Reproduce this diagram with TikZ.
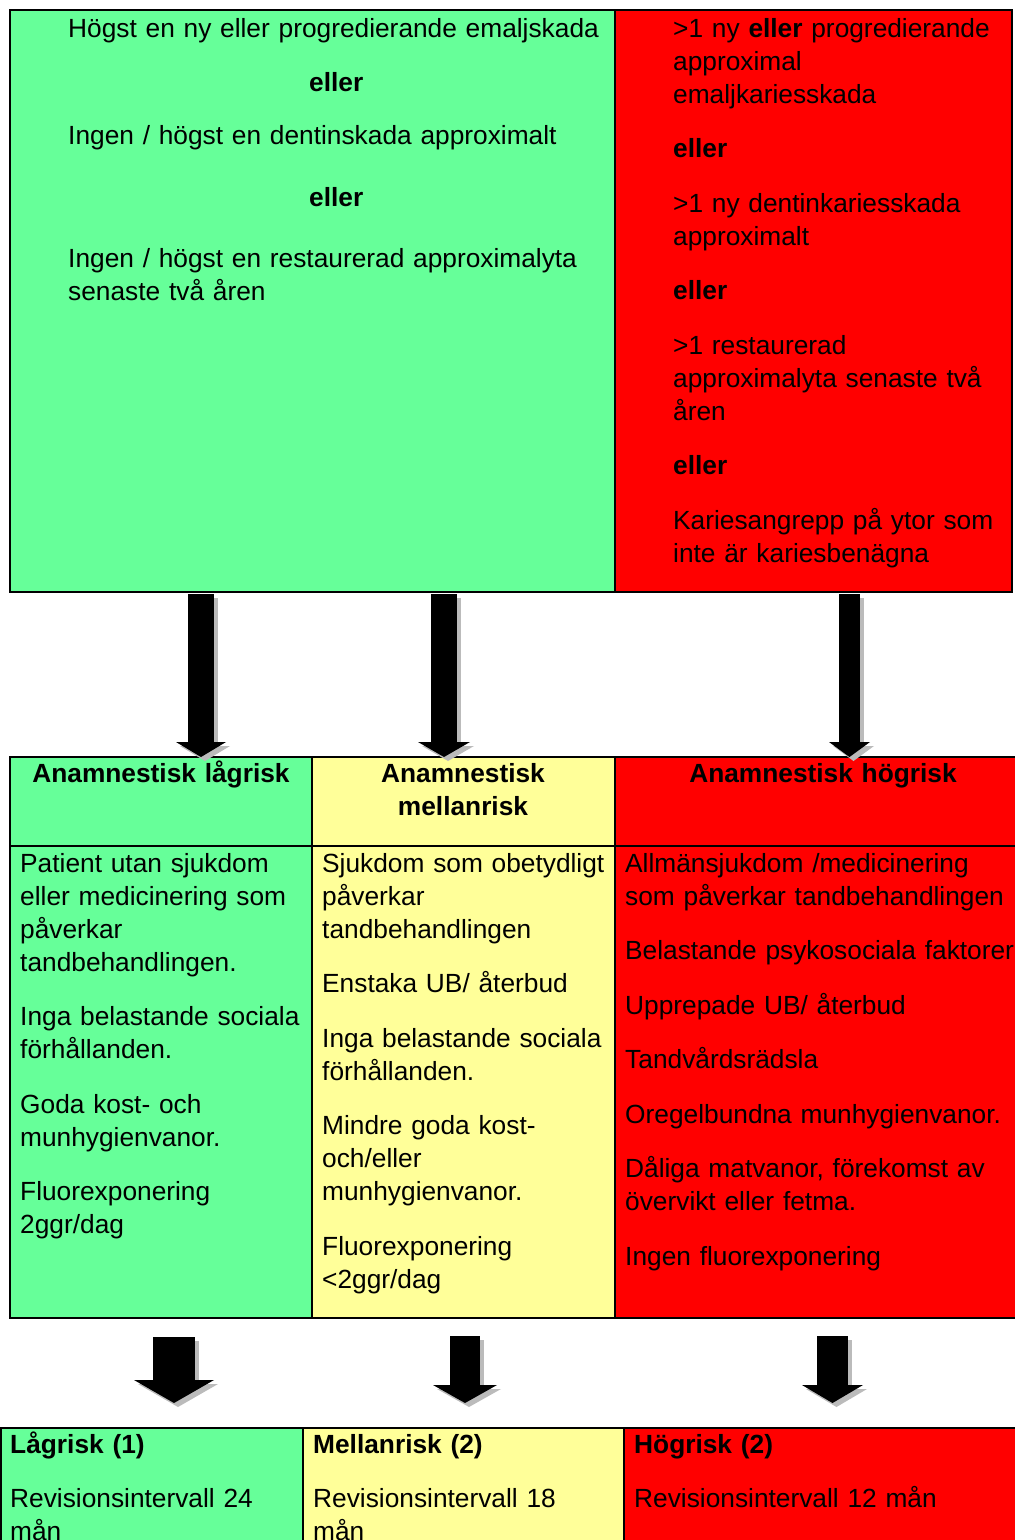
\documentclass[tikz,border=0pt]{standalone}
\usepackage{fontspec}
\setmainfont{Liberation Sans}
\usepackage{tikz}
\usetikzlibrary{arrows.meta}
\definecolor{lgreen}{HTML}{66FF99}
\definecolor{lyellow}{HTML}{FFFF99}
\definecolor{lred}{HTML}{FF0000}
\definecolor{shade}{HTML}{BBBBBB}
\tikzset{
  cell/.style={draw=black, line width=1.6pt, fill=#1, anchor=north west,
               inner sep=0pt, outer sep=0pt},
  txt/.style={anchor=base west, inner sep=0pt, text width=#1, align=left,
              font=\fontsize{26.3}{33}\selectfont},
  hdr/.style={anchor=base, inner sep=0pt, text width=#1, align=center,
              font=\fontsize{26.3}{33}\selectfont\bfseries},
  blockarrow/.style n args={3}{line width=#1, draw=black,
              -{Triangle[length=#3, width=#2, line width=0pt]}},
  arrowshadow/.style={draw=shade, transform canvas={xshift=4pt, yshift=-4pt}}
}
\newcommand{\orline}{\makebox[536pt][c]{\textbf{eller}}}

\begin{document}
\begin{tikzpicture}[x=1pt, y=-1pt]
  \useasboundingbox (0,0) rectangle (1015,1540);
  % findings
  \node[cell=lgreen, minimum width=605, minimum height=582] (topLow)  at (10,10)  {};
  \node[cell=lred,   minimum width=397, minimum height=582] (topHigh) at (615,10) {};
  \node[txt=536] (topLowTxt) at (68,37) {Högst en ny eller progredierande emaljskada\\[21.5pt]
    \orline\\[20pt]
    Ingen / högst en dentinskada approximalt\\[29pt]
    \orline\\[28pt]
    Ingen / högst en restaurerad approximalyta\\
    senaste två åren};
  \node[txt=335] (topHighTxt) at (673,37) {>1 ny \textbf{eller} progredierande\\approximal\\emaljkariesskada\\[21pt]
    \textbf{eller}\\[22pt]
    >1 ny dentinkariesskada\\approximalt\\[21pt]
    \textbf{eller}\\[22pt]
    >1 restaurerad\\approximalyta senaste två\\åren\\[21pt]
    \textbf{eller}\\[22pt]
    Kariesangrepp på ytor som\\inte är kariesbenägna};

  % anamnesis
  \node[cell=lgreen,  minimum width=302, minimum height=89]  (hdrLow)   at (10,757)  {};
  \node[cell=lyellow, minimum width=303, minimum height=89]  (hdrMid)   at (312,757) {};
  \node[cell=lred,    minimum width=416, minimum height=89]  (hdrHigh)  at (615,757) {};
  \node[cell=lgreen,  minimum width=302, minimum height=472] (bodyLow)  at (10,846)  {};
  \node[cell=lyellow, minimum width=303, minimum height=472] (bodyMid)  at (312,846) {};
  \node[cell=lred,    minimum width=416, minimum height=472] (bodyHigh) at (615,846) {};
  \node[hdr=300] (hdrLowTxt)  at (161,782) {Anamnestisk lågrisk};
  \node[hdr=290] (hdrMidTxt)  at (463,782) {Anamnestisk\\mellanrisk};
  \node[hdr=400] (hdrHighTxt) at (823,782) {Anamnestisk högrisk};
  \node[txt=290] (bodyLowTxt) at (20,872) {Patient utan sjukdom\\eller medicinering som\\påverkar\\tandbehandlingen.\\[21.5pt]
    Inga belastande sociala\\förhållanden.\\[21.5pt]
    Goda kost- och\\munhygienvanor.\\[21.5pt]
    Fluorexponering\\2ggr/dag};
  \node[txt=290] (bodyMidTxt) at (322,872) {Sjukdom som obetydligt\\påverkar\\tandbehandlingen\\[21.5pt]
    Enstaka UB/ återbud\\[21.5pt]
    Inga belastande sociala\\förhållanden.\\[21.5pt]
    Mindre goda kost-\\och/eller\\munhygienvanor.\\[21.5pt]
    Fluorexponering\\<2ggr/dag};
  \node[txt=400] (bodyHighTxt) at (625,872) {Allmänsjukdom /medicinering\\som påverkar tandbehandlingen\\[21.5pt]
    Belastande psykosociala faktorer\\[21.5pt]
    Upprepade UB/ återbud\\[21.5pt]
    Tandvårdsrädsla\\[21.5pt]
    Oregelbundna munhygienvanor.\\[21.5pt]
    Dåliga matvanor, förekomst av\\övervikt eller fetma.\\[21.5pt]
    Ingen fluorexponering};

  % risk level
  \node[cell=lgreen,  minimum width=302, minimum height=200] (resLow)  at (1,1428)   {};
  \node[cell=lyellow, minimum width=321, minimum height=200] (resMid)  at (303,1428) {};
  \node[cell=lred,    minimum width=407, minimum height=200] (resHigh) at (624,1428) {};
  \node[txt=290] (resLowTxt)  at (10,1453)  {\textbf{Lågrisk (1)}\\[21.5pt]Revisionsintervall 24\\mån};
  \node[txt=300] (resMidTxt)  at (313,1453) {\textbf{Mellanrisk (2)}\\[21.5pt]Revisionsintervall 18\\mån};
  \node[txt=380] (resHighTxt) at (634,1453) {\textbf{Högrisk (2)}\\[21.5pt]Revisionsintervall 12 mån};

  % arrows
  \coordinate (a1s) at (201,594);   \coordinate (a1e) at (201,757);
  \coordinate (a2s) at (444,594);   \coordinate (a2e) at (444,757);
  \coordinate (a3s) at (849.5,594); \coordinate (a3e) at (849.5,757);
  \coordinate (b1s) at (174,1337);  \coordinate (b1e) at (174,1403);
  \coordinate (b2s) at (465,1336);  \coordinate (b2e) at (465,1403);
  \coordinate (b3s) at (832.5,1336);\coordinate (b3e) at (832.5,1403);
  \foreach \s/\e/\w/\h/\l in {a1s/a1e/26pt/50pt/15pt, a2s/a2e/26pt/52pt/15pt, a3s/a3e/21pt/41pt/15pt,
                              b1s/b1e/42pt/80pt/23pt, b2s/b2e/30pt/64pt/18pt, b3s/b3e/31pt/61pt/18pt}{
    \draw[blockarrow={\w}{\h}{\l}, arrowshadow] (\s) -- (\e);
    \draw[blockarrow={\w}{\h}{\l}] (\s) -- (\e);
  }
\end{tikzpicture}
\end{document}
